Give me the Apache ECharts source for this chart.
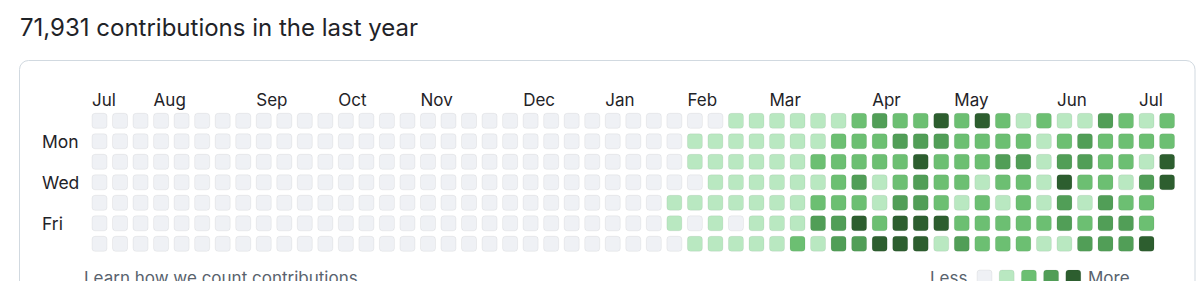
<!DOCTYPE html>
<html>
<head>
<meta charset="utf-8">
<script src="https://cdn.jsdelivr.net/npm/echarts@6/dist/echarts.min.js"></script>
<style>
html,body{margin:0;padding:0;background:#ffffff;}
#chart{width:1200px;height:281px;}
</style>
</head>
<body>
<div id="chart"></div>
<script>
// ---- data ----
const titleText = '71,931 contributions in the last year';
const monthLabels = ['Jul','Aug','Sep','Oct','Nov','Dec','Jan','Feb','Mar','Apr','May','Jun','Jul'];
const monthStartWeeks = [0, 3, 8, 12, 16, 21, 25, 29, 33, 38, 42, 47, 51];
const weekdayLabels = ['', 'Mon', '', 'Wed', '', 'Fri', ''];
const levelColors = ['#eff1f5', '#b9e8c1', '#6cbf72', '#519e57', '#2d5e2f'];
// contribution level per week (columns), days Sun..Sat; null = future day
const weekLevels = [
  [0,0,0,0,0,0,0], [0,0,0,0,0,0,0], [0,0,0,0,0,0,0], [0,0,0,0,0,0,0],
  [0,0,0,0,0,0,0], [0,0,0,0,0,0,0], [0,0,0,0,0,0,0], [0,0,0,0,0,0,0],
  [0,0,0,0,0,0,0], [0,0,0,0,0,0,0], [0,0,0,0,0,0,0], [0,0,0,0,0,0,0],
  [0,0,0,0,0,0,0], [0,0,0,0,0,0,0], [0,0,0,0,0,0,0], [0,0,0,0,0,0,0],
  [0,0,0,0,0,0,0], [0,0,0,0,0,0,0], [0,0,0,0,0,0,0], [0,0,0,0,0,0,0],
  [0,0,0,0,0,0,0], [0,0,0,0,0,0,0], [0,0,0,0,0,0,0], [0,0,0,0,0,0,0],
  [0,0,0,0,0,0,0], [0,0,0,0,0,0,0], [0,0,0,0,0,0,0], [0,0,0,0,0,0,0],
  [0,0,0,0,1,1,0], // 28
  [0,1,1,0,1,0,1], // 29
  [0,1,1,1,1,1,1], // 30
  [1,1,1,1,1,0,1], // 31
  [1,1,1,1,1,1,1], // 32
  [1,1,1,1,1,1,1], // 33
  [1,1,1,1,1,1,2], // 34
  [1,1,2,1,2,3,1], // 35
  [1,2,2,2,2,3,3], // 36
  [2,2,2,3,2,4,3], // 37
  [3,2,2,1,1,2,4], // 38
  [2,3,2,2,3,4,4], // 39
  [2,3,4,3,3,4,4], // 40
  [4,3,2,2,2,4,1], // 41
  [2,2,2,2,1,2,3], // 42
  [4,2,2,1,2,2,2], // 43
  [2,2,3,2,1,2,2], // 44
  [1,2,3,2,2,2,2], // 45
  [2,1,1,1,1,2,1], // 46
  [1,2,3,4,3,3,1], // 47
  [1,3,3,2,1,2,3], // 48
  [3,2,2,2,3,3,3], // 49
  [2,2,2,1,2,3,3], // 50
  [1,2,1,3,2,2,4], // 51
  [2,2,4,4,null,null,null] // 52
];
const legendLevels = [0, 1, 2, 3, 4];

// ---- build ----
const FONT = 'Inter, "Noto Sans", sans-serif';
const TEXT = '#1f2328';
const MUTED = '#59636e';
const weekIdx = weekLevels.map((w, i) => String(i));
const cells = [];
weekLevels.forEach((w, i) => w.forEach((lv, d) => { if (lv !== null) cells.push([i, d, lv]); }));
const monthData = monthStartWeeks.map((w, i) => [w, 0, monthLabels[i]]);

const chart = echarts.init(document.getElementById('chart'), null, {renderer: 'svg'});
const CELL = 15;
const option = {
  animation: false,
  title: {
    text: titleText, left: 15, top: 10,
    textStyle: {fontFamily: FONT, fontSize: 24, fontWeight: 400, color: TEXT}
  },
  grid: {left: 89.24, top: 110.55, width: 1088.1, height: 143.5, containLabel: false},
  xAxis: {
    type: 'category', data: weekIdx, boundaryGap: true,
    axisLine: {show: false}, axisTick: {show: false}, axisLabel: {show: false}, splitLine: {show: false}
  },
  yAxis: {
    type: 'category', data: weekdayLabels, inverse: true, boundaryGap: true,
    axisLine: {show: false}, axisTick: {show: false}, splitLine: {show: false},
    axisLabel: {show: true, interval: 0, align: 'left', margin: 47.2,
      fontFamily: FONT, fontSize: 17.5, color: TEXT}
  },
  graphic: [
    {type: 'rect', silent: true, z: -10,
     shape: {x: 19.5, y: 60.5, width: 1175.5, height: 260, r: 9},
     style: {fill: '#ffffff', stroke: '#d1d9e0', lineWidth: 1}},
    {type: 'text', left: 84, top: 269,
     style: {text: 'Learn how we count contributions', fontFamily: FONT, fontSize: 17, fill: MUTED}},
    {type: 'text', left: 930, top: 269,
     style: {text: 'Less', fontFamily: FONT, fontSize: 17, fill: MUTED}},
    {type: 'text', left: 1088, top: 269,
     style: {text: 'More', fontFamily: FONT, fontSize: 17, fill: MUTED}}
  ].concat(legendLevels.map((lv, i) => ({
    type: 'rect', shape: {x: 977 + i * 22.2, y: 270, width: 15, height: 15, r: 3},
    style: {fill: levelColors[lv], stroke: 'rgba(31,35,40,0.06)', lineWidth: 1}
  }))),
  series: [
    {
      type: 'custom', data: cells,
      renderItem: function (params, api) {
        const c = api.coord([api.value(0), api.value(1)]);
        return {
          type: 'rect',
          shape: {x: c[0] - CELL / 2, y: c[1] - CELL / 2, width: CELL, height: CELL, r: 3},
          style: {fill: levelColors[api.value(2)], stroke: 'rgba(31,35,40,0.06)', lineWidth: 1}
        };
      }
    },
    {
      type: 'custom', data: monthData,
      renderItem: function (params, api) {
        const c = api.coord([api.value(0), api.value(1)]);
        return {
          type: 'text',
          x: c[0] - CELL / 2, y: c[1] - CELL / 2 - 5,
          style: {text: monthLabels[params.dataIndex], fontFamily: FONT, fontSize: 17,
                  fill: TEXT, textAlign: 'left', textVerticalAlign: 'bottom'}
        };
      }
    }
  ]
};
chart.setOption(option);
</script>
</body>
</html>
